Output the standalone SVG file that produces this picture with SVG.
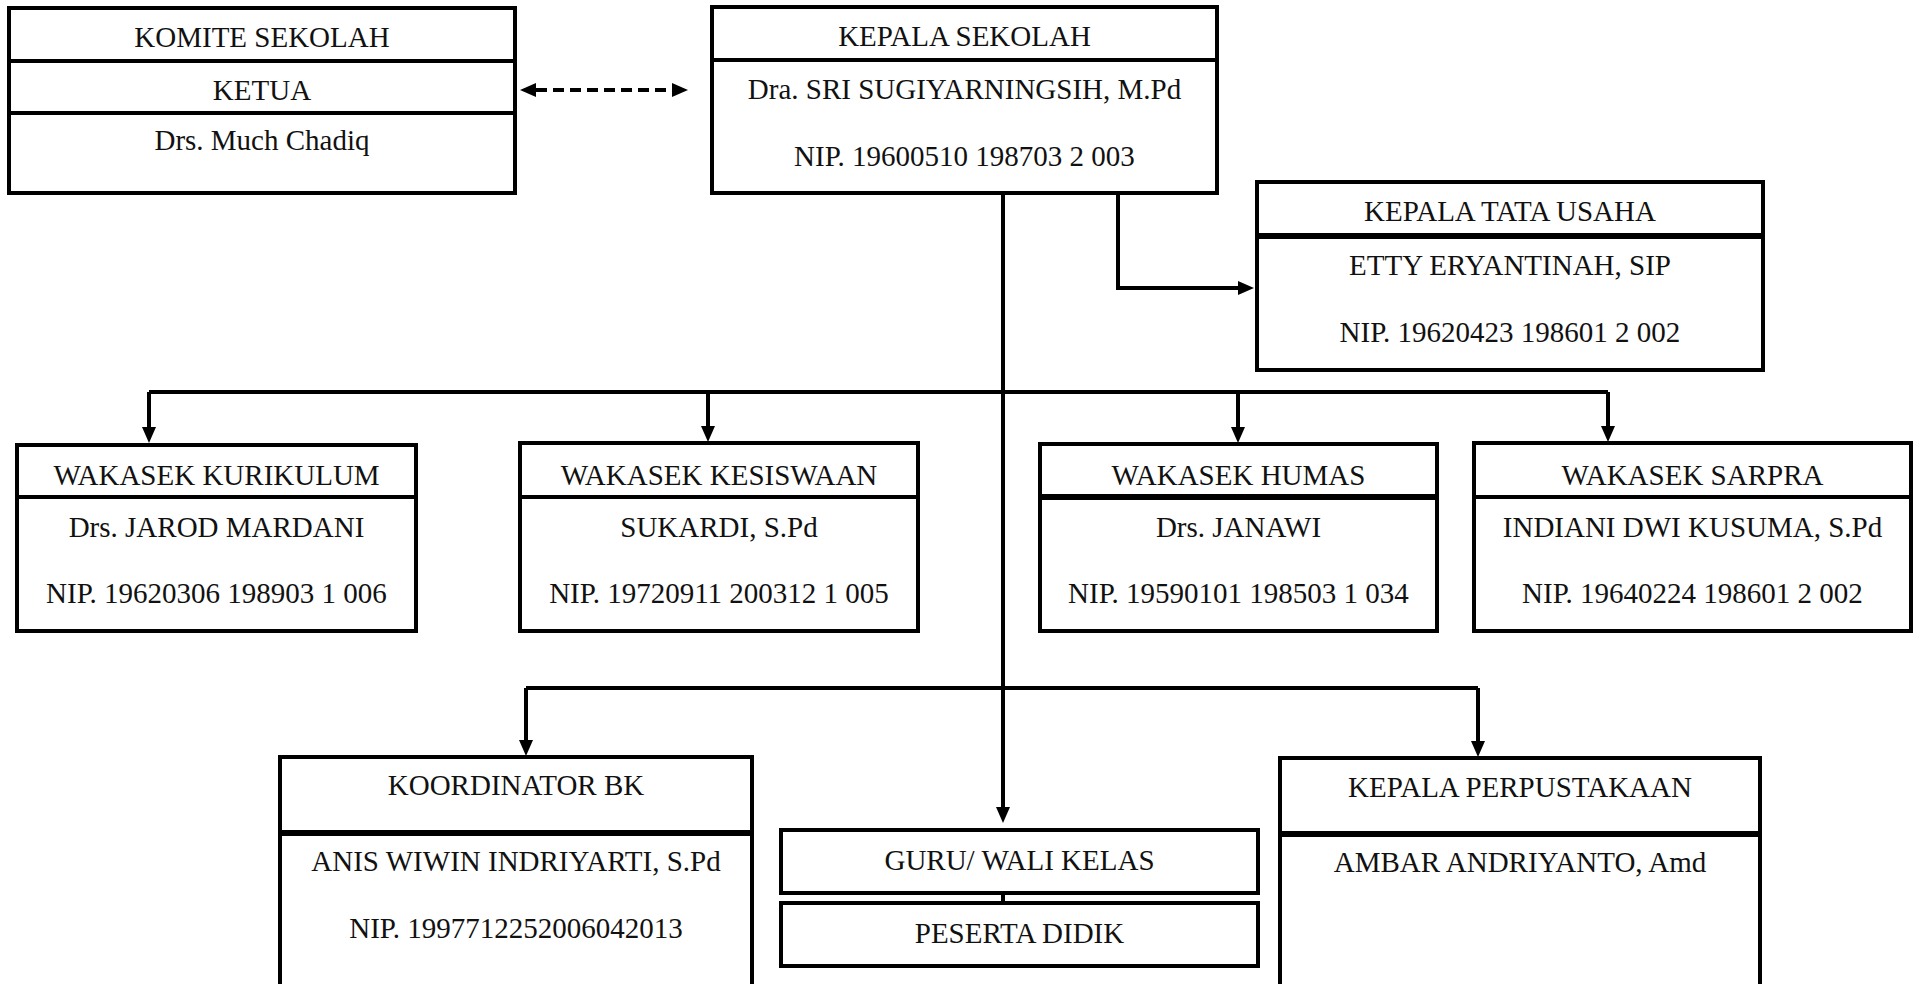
<svg xmlns="http://www.w3.org/2000/svg" width="1919" height="984" viewBox="0 0 1919 984">
<style>
.box{fill:#fff;stroke:#000;stroke-width:4}
.div{stroke:#000;stroke-width:4}
.div2{stroke:#000;stroke-width:6}
.t{font-family:"Liberation Serif","Times New Roman",serif;font-size:29px;fill:#111;text-anchor:middle}
.c{fill:none;stroke:#000;stroke-width:4}
.dash{fill:none;stroke:#000;stroke-width:4;stroke-dasharray:11 6}
</style>
<defs>
<marker id="ah" viewBox="0 0 16 14" refX="0" refY="7" markerWidth="16" markerHeight="14" markerUnits="userSpaceOnUse" orient="auto-start-reverse">
<path d="M0,0 L16,7 L0,14 Z" fill="#000"/>
</marker>
</defs>
<rect width="1919" height="984" fill="#fff"/>
<g id="connectors">
<line class="dash" x1="536" y1="90" x2="672" y2="90" marker-start="url(#ah)" marker-end="url(#ah)"/>
<line class="c" x1="1003" y1="193" x2="1003" y2="807" marker-end="url(#ah)"/>
<polyline class="c" points="1118,193 1118,288 1238,288" marker-end="url(#ah)"/>
<polyline class="c" points="149,392 1608,392"/>
<line class="c" x1="149" y1="392" x2="149" y2="427" marker-end="url(#ah)"/>
<line class="c" x1="708" y1="392" x2="708" y2="426" marker-end="url(#ah)"/>
<line class="c" x1="1238" y1="392" x2="1238" y2="427" marker-end="url(#ah)"/>
<line class="c" x1="1608" y1="392" x2="1608" y2="426" marker-end="url(#ah)"/>
<polyline class="c" points="526,688 1478,688"/>
<line class="c" x1="526" y1="688" x2="526" y2="740" marker-end="url(#ah)"/>
<line class="c" x1="1478" y1="688" x2="1478" y2="741" marker-end="url(#ah)"/>
<line class="c" x1="1003" y1="893" x2="1003" y2="903" stroke-width="2"/>
</g>
<g id="komite">
<rect class="box" x="9" y="8" width="506" height="185"/>
<line class="div" x1="9" y1="61" x2="515" y2="61"/>
<line class="div" x1="9" y1="113" x2="515" y2="113"/>
<text class="t" x="262" y="47">KOMITE SEKOLAH</text>
<text class="t" x="262" y="100">KETUA</text>
<text class="t" x="262" y="150">Drs. Much Chadiq</text>
</g>
<g id="kepala-sekolah">
<rect class="box" x="712" y="7" width="505" height="186"/>
<line class="div" x1="712" y1="60" x2="1217" y2="60"/>
<text class="t" x="964.5" y="46">KEPALA SEKOLAH</text>
<text class="t" x="964.5" y="99">Dra. SRI SUGIYARNINGSIH, M.Pd</text>
<text class="t" x="964.5" y="166">NIP. 19600510 198703 2 003</text>
</g>
<g id="kepala-tu">
<rect class="box" x="1257" y="182" width="506" height="188"/>
<line class="div2" x1="1257" y1="236" x2="1763" y2="236"/>
<text class="t" x="1510" y="221">KEPALA TATA USAHA</text>
<text class="t" x="1510" y="275">ETTY ERYANTINAH, SIP</text>
<text class="t" x="1510" y="342">NIP. 19620423 198601 2 002</text>
</g>
<g id="wakasek-kurikulum">
<rect class="box" x="17" y="445" width="399" height="186"/>
<line class="div" x1="17" y1="497" x2="416" y2="497"/>
<text class="t" x="216.5" y="485">WAKASEK KURIKULUM</text>
<text class="t" x="216.5" y="537">Drs. JAROD MARDANI</text>
<text class="t" x="216.5" y="603">NIP. 19620306 198903 1 006</text>
</g>
<g id="wakasek-kesiswaan">
<rect class="box" x="520" y="443" width="398" height="188"/>
<line class="div" x1="520" y1="497" x2="918" y2="497"/>
<text class="t" x="719" y="485">WAKASEK KESISWAAN</text>
<text class="t" x="719" y="537">SUKARDI, S.Pd</text>
<text class="t" x="719" y="603">NIP. 19720911 200312 1 005</text>
</g>
<g id="wakasek-humas">
<rect class="box" x="1040" y="444" width="397" height="187"/>
<line class="div2" x1="1040" y1="497" x2="1437" y2="497"/>
<text class="t" x="1238.5" y="485">WAKASEK HUMAS</text>
<text class="t" x="1238.5" y="537">Drs. JANAWI</text>
<text class="t" x="1238.5" y="603">NIP. 19590101 198503 1 034</text>
</g>
<g id="wakasek-sarpra">
<rect class="box" x="1474" y="443" width="437" height="188"/>
<line class="div" x1="1474" y1="497" x2="1911" y2="497"/>
<text class="t" x="1692.5" y="485">WAKASEK SARPRA</text>
<text class="t" x="1692.5" y="537">INDIANI DWI KUSUMA, S.Pd</text>
<text class="t" x="1692.5" y="603">NIP. 19640224 198601 2 002</text>
</g>
<g id="koordinator-bk">
<rect class="box" x="280" y="757" width="472" height="250"/>
<line class="div2" x1="280" y1="833" x2="752" y2="833"/>
<text class="t" x="516" y="795">KOORDINATOR BK</text>
<text class="t" x="516" y="871">ANIS WIWIN INDRIYARTI, S.Pd</text>
<text class="t" x="516" y="938">NIP. 1997712252006042013</text>
</g>
<g id="guru-wali-kelas">
<rect class="box" x="781" y="830" width="477" height="63"/>
<text class="t" x="1019.5" y="870">GURU/ WALI KELAS</text>
</g>
<g id="peserta-didik">
<rect class="box" x="781" y="903" width="477" height="63"/>
<text class="t" x="1019.5" y="943">PESERTA DIDIK</text>
</g>
<g id="kepala-perpustakaan">
<rect class="box" x="1280" y="758" width="480" height="250"/>
<line class="div2" x1="1280" y1="834" x2="1760" y2="834"/>
<text class="t" x="1520" y="797">KEPALA PERPUSTAKAAN</text>
<text class="t" x="1520" y="872">AMBAR ANDRIYANTO, Amd</text>
</g>
</svg>
